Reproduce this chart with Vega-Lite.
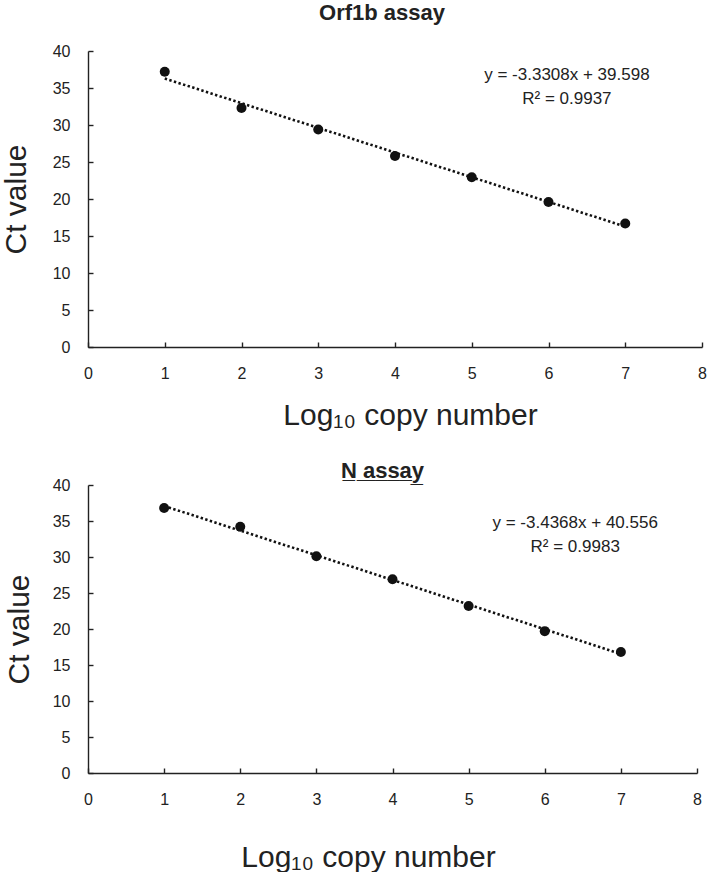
{
  "$schema": "https://vega.github.io/schema/vega-lite/v6.json",
  "background": "white",
  "padding": {"left": 1, "top": 2, "right": 4, "bottom": 0},
  "spacing": 30,
  "config": {
    "font": "Liberation Sans",
    "view": {"stroke": null},
    "axis": {
      "grid": false,
      "labelFlush": false,
      "domainColor": "#222",
      "domainWidth": 1.4,
      "tickColor": "#222",
      "tickWidth": 1.4,
      "tickSize": -5,
      "labelFont": "Liberation Sans",
      "labelFontSize": 16,
      "labelColor": "#222",
      "titleFont": "Liberation Sans",
      "titleFontSize": 30,
      "titleFontWeight": "normal",
      "titleColor": "#222"
    },
    "title": {"font": "Liberation Sans", "fontSize": 22, "fontWeight": "bold", "color": "#222", "anchor": "middle"}
  },
  "datasets": {
    "orf1b": [
      {"log_copy": 1, "ct": 37.2},
      {"log_copy": 2, "ct": 32.3},
      {"log_copy": 3, "ct": 29.4},
      {"log_copy": 4, "ct": 25.8},
      {"log_copy": 5, "ct": 22.95},
      {"log_copy": 6, "ct": 19.6},
      {"log_copy": 7, "ct": 16.7}
    ],
    "nassay": [
      {"log_copy": 1, "ct": 36.8},
      {"log_copy": 2, "ct": 34.2},
      {"log_copy": 3, "ct": 30.1},
      {"log_copy": 4, "ct": 26.9},
      {"log_copy": 5, "ct": 23.2},
      {"log_copy": 6, "ct": 19.7},
      {"log_copy": 7, "ct": 16.8}
    ]
  },
  "vconcat": [
    {
      "title": {"text": "Orf1b assay", "offset": 18, "fontSize": 22, "dx": -13},
      "width": 614,
      "height": 296,
      "data": {"name": "orf1b"},
      "encoding": {
        "x": {"field": "log_copy", "type": "quantitative", "scale": {"domain": [0, 8], "nice": false},
              "axis": {"values": [0,1,2,3,4,5,6,7,8], "title": "Log₁₀ copy number", "labelPadding": 23, "titlePadding": 19, "titleX": 322}},
        "y": {"field": "ct", "type": "quantitative", "scale": {"domain": [0, 40], "nice": false},
              "axis": {"values": [0,5,10,15,20,25,30,35,40], "title": "Ct value", "labelPadding": 23, "titlePadding": 21}}
      },
      "layer": [
        {
          "transform": [{"regression": "ct", "on": "log_copy", "extent": [1, 7]}],
          "mark": {"type": "line", "color": "#111", "strokeWidth": 2.6, "strokeDash": [2.4, 2.4]}
        },
        {
          "mark": {"type": "circle", "size": 100, "color": "#111", "opacity": 1}
        },
        {
          "transform": [{"filter": "datum.log_copy == 1"}],
          "mark": {"type": "text", "fontSize": 17, "color": "#222", "align": "center", "baseline": "middle", "lineHeight": 24,
                   "text": ["y = -3.3308x + 39.598", "R² = 0.9937"]},
          "encoding": {"x": {"datum": 6.24}, "y": {"datum": 36.75}}
        }
      ]
    },
    {
      "title": {"text": "N̲ ̲a̲s̲s̲a̲y̲", "offset": -6, "fontSize": 22, "dx": -10},
      "width": 609,
      "height": 288,
      "data": {"name": "nassay"},
      "encoding": {
        "x": {"field": "log_copy", "type": "quantitative", "scale": {"domain": [0, 8], "nice": false},
              "axis": {"values": [0,1,2,3,4,5,6,7,8], "title": "Log₁₀ copy number", "labelPadding": 23, "titlePadding": 35, "titleX": 280}},
        "y": {"field": "ct", "type": "quantitative", "scale": {"domain": [0, 40], "nice": false},
              "axis": {"values": [0,5,10,15,20,25,30,35,40], "title": "Ct value", "labelPadding": 23, "titlePadding": 18}}
      },
      "layer": [
        {
          "transform": [{"regression": "ct", "on": "log_copy", "extent": [1, 7]}],
          "mark": {"type": "line", "color": "#111", "strokeWidth": 2.6, "strokeDash": [2.4, 2.4]}
        },
        {
          "mark": {"type": "circle", "size": 100, "color": "#111", "opacity": 1}
        },
        {
          "transform": [{"filter": "datum.log_copy == 1"}],
          "mark": {"type": "text", "fontSize": 17, "color": "#222", "align": "center", "baseline": "middle", "lineHeight": 24,
                   "text": ["y = -3.4368x + 40.556", "R² = 0.9983"]},
          "encoding": {"x": {"datum": 6.4}, "y": {"datum": 34.7}}
        }
      ]
    }
  ]
}
